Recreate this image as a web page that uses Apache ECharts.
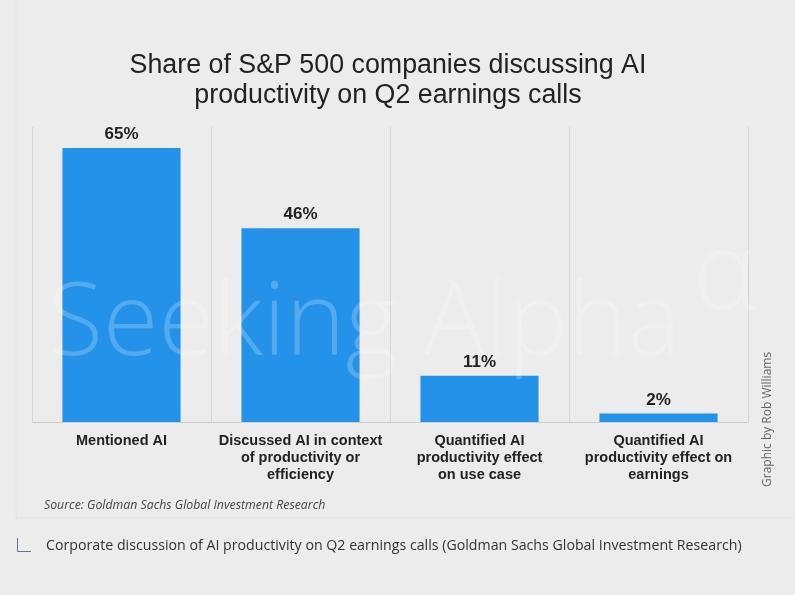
<!DOCTYPE html>
<html>
<head>
<meta charset="utf-8">
<script src="https://cdn.jsdelivr.net/npm/echarts@6/dist/echarts.min.js"></script>
<style>
  html, body { margin: 0; padding: 0; background: #ececec; }
  #chart { width: 795px; height: 595px; }
</style>
</head>
<body>
<div id="chart"></div>
<script>
// categories and values
var categories = [
  "Mentioned AI",
  "Discussed AI in context\nof productivity or\nefficiency",
  "Quantified AI\nproductivity effect\non use case",
  "Quantified AI\nproductivity effect on\nearnings"
];
var shares = [65, 46, 11, 2];

var chartDom = document.getElementById("chart");
var myChart = echarts.init(chartDom);

var option = {
  backgroundColor: "#ececec",
  animation: false,
  title: {
    text: "Share of S&P 500 companies discussing AI\nproductivity on Q2 earnings calls",
    left: 383,
    top: 46,
    textAlign: "center",
    textStyle: {
      fontFamily: "Liberation Sans, Arial, sans-serif",
      fontSize: 26.8,
      fontWeight: "normal",
      color: "#222",
      lineHeight: 30
    }
  },
  grid: {
    left: 32,
    right: 47,
    top: 127,
    bottom: 173
  },
  xAxis: {
    type: "category",
    data: categories,
    axisLine: { lineStyle: { color: "#cfcfcf", width: 1 } },
    axisTick: { show: false },
    splitLine: { show: true, lineStyle: { color: "#d6d6d6", width: 1 } },
    axisLabel: {
      interval: 0,
      margin: 10,
      fontFamily: "Liberation Sans, Arial, sans-serif",
      fontSize: 14.5,
      fontWeight: "bold",
      color: "#222",
      lineHeight: 17
    }
  },
  yAxis: {
    type: "value",
    min: 0,
    max: 70,
    show: false,
    splitLine: { show: false }
  },
  series: [
    {
      type: "bar",
      data: shares,
      barWidth: "66%",
      itemStyle: { color: "#2492e9" },
      label: {
        show: true,
        position: "top",
        distance: 5,
        formatter: "{c}%",
        fontFamily: "Liberation Sans, Arial, sans-serif",
        fontSize: 17,
        fontWeight: "bold",
        color: "#222"
      }
    }
  ],
  graphic: [
    {
      type: "rect",
      z: -1,
      shape: { x: 16, y: -2, width: 800, height: 520 },
      style: { fill: "none", stroke: "#e2e2e2", lineWidth: 1 }
    },
    {
      // watermark
      type: "text",
      z: 100,
      left: 48,
      top: 276,
      style: {
        text: "Seeking Alpha",
        font: "300 101px 'Open Sans', sans-serif",
        fill: "rgba(255,255,255,0.22)"
      }
    },
    {
      type: "text",
      z: 100,
      left: 693,
      top: 224,
      style: {
        text: "α",
        font: "300 108px 'Open Sans', sans-serif",
        fill: "rgba(255,255,255,0.22)"
      }
    },
    {
      type: "text",
      left: 44,
      top: 499,
      style: {
        text: "Source: Goldman Sachs Global Investment Research",
        font: "italic 12.3px 'Open Sans', sans-serif",
        fill: "#444"
      }
    },
    {
      type: "text",
      x: 762,
      y: 487,
      rotation: Math.PI / 2,
      style: {
        text: "Graphic by Rob Williams",
        font: "12px 'Open Sans', sans-serif",
        fill: "#666"
      }
    },
    {
      type: "polyline",
      shape: { points: [[17.5, 538], [17.5, 551.5], [31, 551.5]] },
      style: { stroke: "#5b7896", lineWidth: 1, fill: "none" }
    },
    {
      type: "text",
      left: 46,
      top: 539,
      style: {
        text: "Corporate discussion of AI productivity on Q2 earnings calls (Goldman Sachs Global Investment Research)",
        font: "14.2px 'Open Sans', sans-serif",
        fill: "#333"
      }
    }
  ]
};

myChart.setOption(option);

window.addEventListener("resize", function () {
  if (myChart != null && myChart != undefined) {
    myChart.resize();
  }
});
</script>
</body>
</html>
